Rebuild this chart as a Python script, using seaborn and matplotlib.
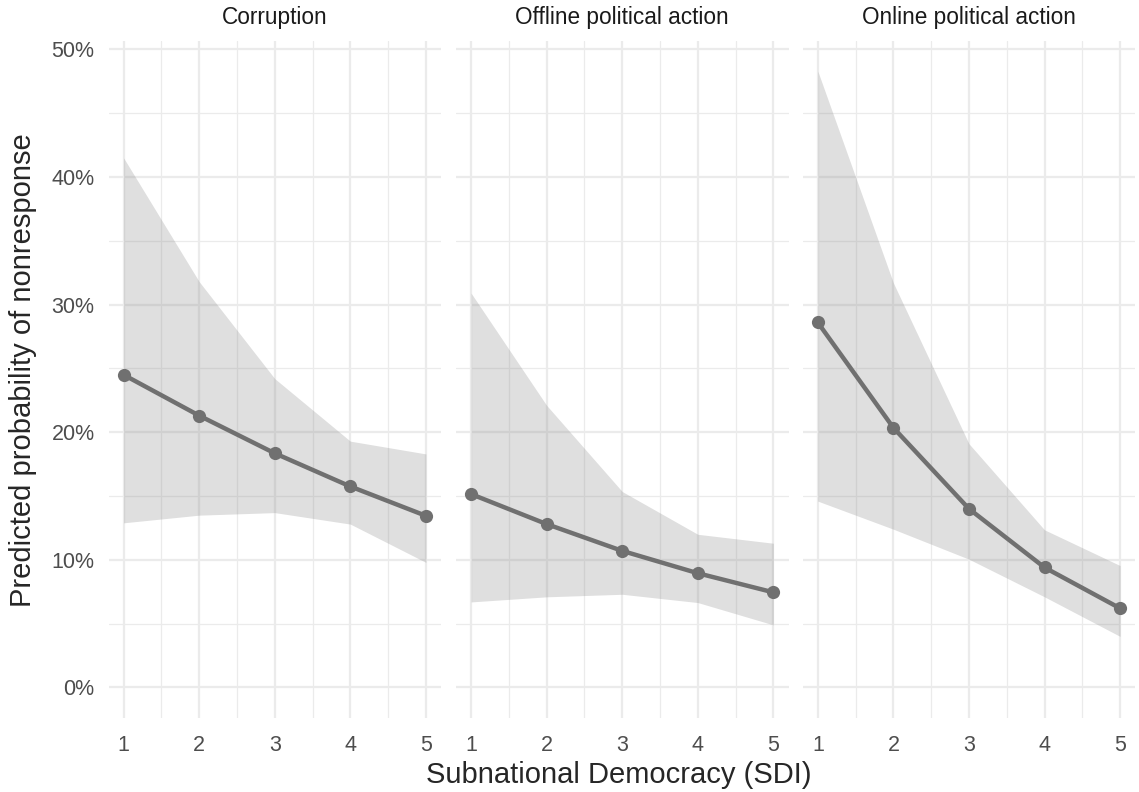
import pandas as pd
import numpy as np
import matplotlib.pyplot as plt
import matplotlib.ticker as mticker
import seaborn as sns

sns.set_style('white')
plt.rcParams['font.family'] = ['Liberation Sans', 'DejaVu Sans']

# ── Data (predicted probability of nonresponse, %) ─────────────
panels = ['Corruption', 'Offline political action', 'Online political action']
sdi    = [1, 2, 3, 4, 5]

corruption_fit   = [24.5, 21.3, 18.35, 15.75, 13.45]
corruption_low   = [12.9, 13.5, 13.7, 12.8, 9.8]
corruption_high  = [41.5, 31.8, 24.2, 19.3, 18.3]

offline_fit      = [15.15, 12.8, 10.7, 8.95, 7.45]
offline_low      = [6.7, 7.1, 7.3, 6.65, 4.9]
offline_high     = [30.9, 22.1, 15.35, 12.0, 11.3]

online_fit       = [28.6, 20.35, 14.0, 9.4, 6.2]
online_low       = [14.6, 12.4, 10.05, 7.1, 4.0]
online_high      = [48.3, 31.7, 19.1, 12.35, 9.55]

fits  = [corruption_fit, offline_fit, online_fit]
lows  = [corruption_low, offline_low, online_low]
highs = [corruption_high, offline_high, online_high]

rows = []
for p, f, lo, hi in zip(panels, fits, lows, highs):
    for x, a, b, c in zip(sdi, f, lo, hi):
        rows.append({'panel': p, 'sdi': x, 'fit': a / 100, 'low': b / 100, 'high': c / 100})
df = pd.DataFrame(rows)

LINE  = '#707070'
GRID  = '#EBEBEB'
TICK  = '#4D4D4D'

fig = plt.figure(figsize=(11.39, 7.92), dpi=100)
lefts  = [108.5 / 1139, 456 / 1139, 802.7 / 1139]
bottom = 1 - 718.3 / 792
height = (718.3 - 41) / 792
width  = 332.5 / 1139

for i, (p, left) in enumerate(zip(panels, lefts)):
    ax = fig.add_axes([left, bottom, width, height])
    sub = df[df['panel'] == p]

    ax.fill_between(sub['sdi'], sub['low'], sub['high'],
                    color='grey', alpha=0.25, linewidth=0, zorder=2)
    sns.lineplot(data=sub, x='sdi', y='fit', ax=ax, color=LINE,
                 linewidth=3.2, marker='o', markersize=9.5,
                 markeredgewidth=0, zorder=3)

    ax.set_xlim(0.8, 5.2)
    ax.set_ylim(-0.0242, 0.5066)
    ax.set_xticks(sdi)
    ax.set_xticks([1.5, 2.5, 3.5, 4.5], minor=True)
    ax.set_yticks([0, 0.1, 0.2, 0.3, 0.4, 0.5])
    ax.set_yticks([0.05, 0.15, 0.25, 0.35, 0.45], minor=True)
    ax.yaxis.set_major_formatter(mticker.PercentFormatter(1.0, decimals=0))

    ax.grid(which='major', color=GRID, linewidth=1.6, zorder=0)
    ax.grid(which='minor', color=GRID, linewidth=0.9, zorder=0)
    ax.set_axisbelow(True)
    for s in ax.spines.values():
        s.set_visible(False)

    ax.tick_params(which='both', length=0, colors=TICK, labelsize=15.5)
    ax.tick_params(axis='x', pad=12)
    ax.tick_params(axis='y', pad=10)
    if i > 0:
        ax.tick_params(axis='y', labelleft=False)

    ax.set_xlabel('')
    ax.set_ylabel('')
    ax.set_title(p, fontsize=16.3, color='#1A1A1A', pad=12)

fig.text(619 / 1139, 1 - 783.3 / 792, 'Subnational Democracy (SDI)',
         ha='center', va='baseline', fontsize=21)
fig.text(23 / 1139, 1 - 370 / 792, 'Predicted probability of nonresponse',
         ha='center', va='center', rotation=90, fontsize=21)

plt.savefig('out.png', dpi=100)
plt.close()
